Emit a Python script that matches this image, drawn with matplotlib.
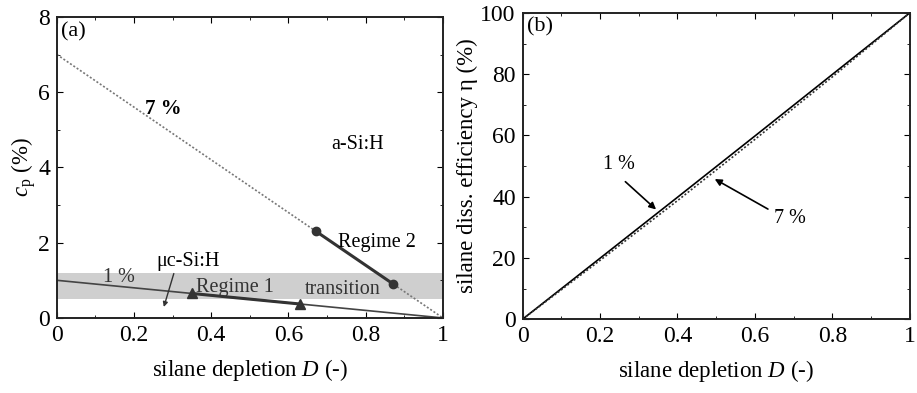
import matplotlib
matplotlib.use('Agg')
import matplotlib.pyplot as plt
from matplotlib.ticker import MultipleLocator

plt.rcParams['font.family'] = ['Liberation Serif', 'DejaVu Serif']
plt.rcParams['mathtext.fontset'] = 'custom'
plt.rcParams['mathtext.rm'] = 'Liberation Serif'
plt.rcParams['mathtext.it'] = 'Liberation Serif:italic'

# ── (a) plasma silane concentration vs depletion ──────────────────
line_D   = [0.0, 1.0]
cp_7pct  = [7.0, 0.0]
cp_1pct  = [1.0, 0.0]
band_lo, band_hi = 0.5, 1.2

reg1_D  = [0.35, 0.63]
reg1_cp = [0.65, 0.37]
reg2_D  = [0.67, 0.87]
reg2_cp = [2.31, 0.91]

# ── (b) dissociation efficiency vs depletion ──────────────────────
eta_D    = [0.0, 0.2, 0.4, 0.5, 0.6, 0.8, 1.0]
eta_1pct = [0.0, 19.9, 39.8, 49.8, 59.8, 79.9, 100.0]
eta_7pct = [0.0, 19.2, 38.7, 48.7, 58.7, 79.1, 100.0]

fig = plt.figure(figsize=(9.17, 3.93), dpi=100)
ax1 = fig.add_axes([0.062, 0.191, 0.421, 0.766])
ax2 = fig.add_axes([0.570, 0.188, 0.422, 0.779])

fs_tick = 17
fs_lab = 16.5
fs_txt = 14.5
for ax in (ax1, ax2):
    ax.tick_params(which='both', direction='in', top=True, right=True,
                   labelsize=fs_tick, pad=5)
    ax.tick_params(which='major', length=4)
    ax.tick_params(which='minor', length=2)
    ax.set_xlim(0, 1)
    ax.xaxis.set_minor_locator(MultipleLocator(0.1))
    ax.set_xticks([0, 0.2, 0.4, 0.6, 0.8, 1.0])
    ax.set_xticklabels(['0', '0.2', '0.4', '0.6', '0.8', '1'])
    ax.set_xlabel('silane depletion $\\mathit{D}$ (-)', fontsize=fs_lab, labelpad=8)
    for s in ax.spines.values():
        s.set_linewidth(1.4)
        s.set_color('#222222')

# panel (a)
ax1.axhspan(band_lo, band_hi, color='#cfcfcf', lw=0, zorder=0)
ax1.plot(line_D, cp_7pct, ls=(0, (1.2, 1.2)), color='#777777', lw=1.2)
ax1.plot(line_D, cp_1pct, color='#444444', lw=1.2)
ax1.plot(reg1_D, reg1_cp, color='#333333', lw=2.2, marker='^', ms=7)
ax1.plot(reg2_D, reg2_cp, color='#333333', lw=2.2, marker='o', ms=6)
ax1.set_ylim(0, 8)
ax1.yaxis.set_major_locator(MultipleLocator(2))
ax1.yaxis.set_minor_locator(MultipleLocator(1))
ax1.set_ylabel('$\\mathit{c}_{\\mathrm{p}}$ (%)', fontsize=fs_lab, labelpad=0)

ax1.text(0.012, 7.85, '(a)', fontsize=16, va='top', ha='left')
ax1.text(0.275, 5.55, '7 %', fontsize=15, weight='bold', ha='center', va='center')
ax1.text(0.78, 4.6, 'a-Si:H', fontsize=fs_txt, ha='center', va='center')
ax1.text(0.83, 2.0, 'Regime 2', fontsize=fs_txt, ha='center', va='center')
ax1.text(0.16, 1.07, '1 %', fontsize=fs_txt, ha='center', va='center', color='#333333')
ax1.text(0.46, 0.8, 'Regime 1', fontsize=fs_txt, ha='center', va='center', color='#333333')
ax1.text(0.74, 0.75, 'transition', fontsize=fs_txt, ha='center', va='center', color='#333333')
ax1.text(0.34, 1.5, 'μc-Si:H', fontsize=fs_txt, ha='center', va='center')
ax1.annotate('', xy=(0.275, 0.22), xytext=(0.305, 1.25),
             arrowprops=dict(arrowstyle='-|>', color='#333333', lw=1.0,
                             mutation_scale=7))

# panel (b)
ax2.plot(eta_D, eta_1pct, color='black', lw=1.2)
ax2.plot(eta_D, eta_7pct, ls=(0, (1.2, 1.2)), color='#333333', lw=1.2)
ax2.set_ylim(0, 100)
ax2.yaxis.set_major_locator(MultipleLocator(20))
ax2.yaxis.set_minor_locator(MultipleLocator(10))
ax2.set_ylabel('silane diss. efficiency η (%)', fontsize=fs_lab, labelpad=2)

ax2.text(0.012, 98.5, '(b)', fontsize=16, va='top', ha='left')
ax2.text(0.25, 50.5, '1 %', fontsize=fs_txt, ha='center', va='center')
ax2.text(0.69, 33, '7 %', fontsize=fs_txt, ha='center', va='center')
ax2.annotate('', xy=(0.35, 35.2), xytext=(0.26, 45.5),
             arrowprops=dict(arrowstyle='-|>', color='black', lw=1.2,
                             mutation_scale=10))
ax2.annotate('', xy=(0.49, 46.2), xytext=(0.64, 35.5),
             arrowprops=dict(arrowstyle='-|>', color='black', lw=1.2,
                             mutation_scale=10))

fig.savefig('out.png', dpi=100)
